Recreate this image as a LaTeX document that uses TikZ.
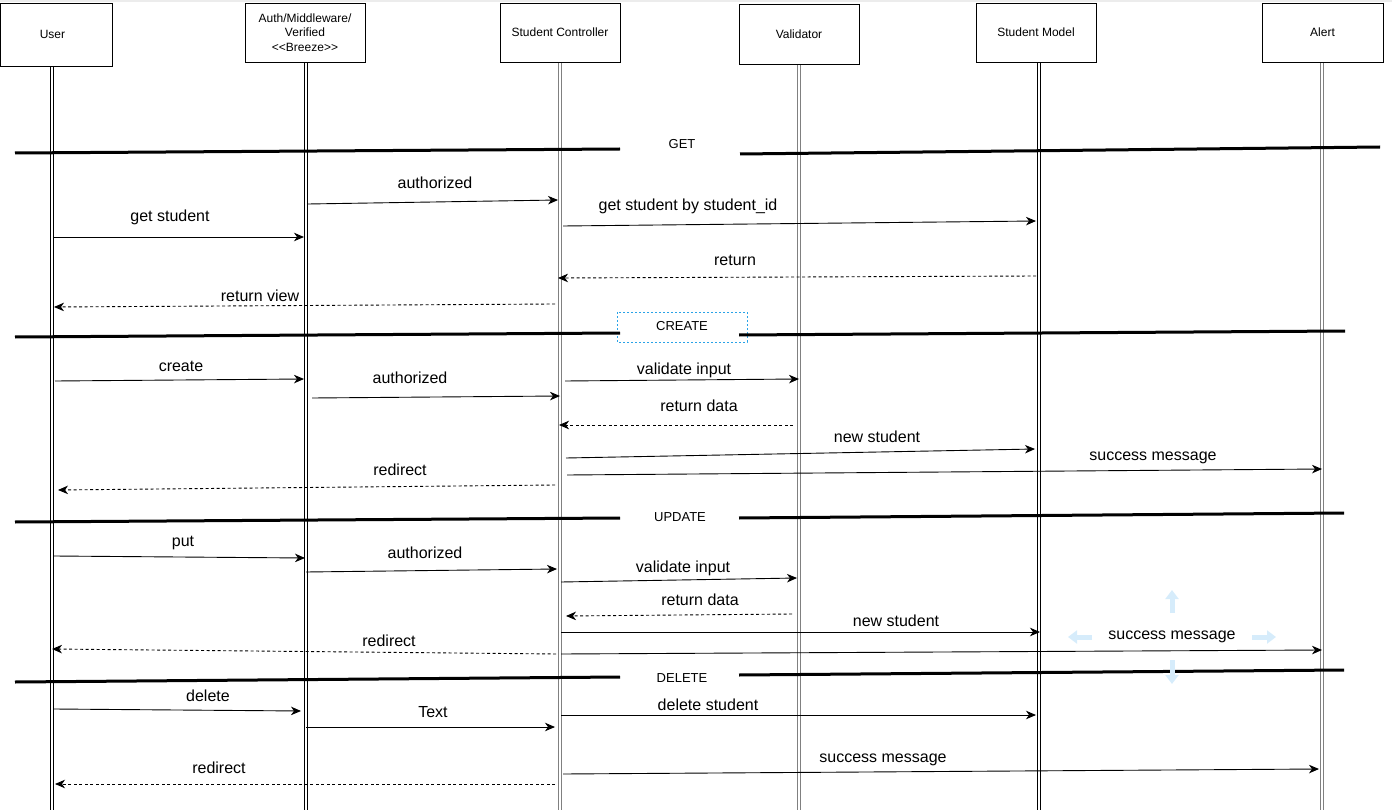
\documentclass[tikz,border=0pt]{standalone}
\usepackage{tikz}
\usepackage{xcolor}
\usepackage{fontspec}
\setmainfont{Liberation Sans}
\usetikzlibrary{arrows.meta,calc}

\definecolor{lifegray}{RGB}{128,128,128}
\definecolor{selblue}{RGB}{41,163,232}
\definecolor{hintblue}{RGB}{214,236,251}

\begin{document}
\begin{tikzpicture}[x=1pt,y=1pt,yscale=-1,xscale=1,
  box/.style={draw,fill=white,line width=0.9pt,minimum width=120pt,minimum height=59pt,inner sep=0pt,align=center,font=\fontsize{12}{14.5}\selectfont},
  life/.style={draw=#1,double=white,double distance=2.4pt,line width=0.9pt},
  life/.default=black,
  msg/.style={line width=0.9pt,-{Stealth[length=10pt,width=8.5pt,inset=3pt]}},
  ret/.style={msg,dash pattern=on 3pt off 2.5pt},
  sep/.style={line width=3pt},
  lbl/.style={inner sep=0pt,font=\fontsize{16}{18}\selectfont},
  seclbl/.style={inner sep=0pt,font=\fontsize{13}{15}\selectfont},
  hint/.style={draw=hintblue,line width=5pt,-{Triangle[length=9pt,width=13pt]}}]
\useasboundingbox (0,0) rectangle (1392,810);
\fill[gray!15] (0,0) rectangle (1392,2);

%Lifelines
\coordinate (userL) at (52,0);
\coordinate (authL) at (306,0);
\coordinate (ctrlL) at (560,0);
\coordinate (validL) at (799,0);
\coordinate (modelL) at (1039,0);
\coordinate (alertL) at (1322,0);
\draw[life] (userL |- 0,60) -- (userL |- 0,812);
\draw[life] (authL |- 0,60) -- (authL |- 0,812);
\draw[life=lifegray] (ctrlL |- 0,60) -- (ctrlL |- 0,812);
\draw[life=lifegray] (validL |- 0,60) -- (validL |- 0,812);
\draw[life] (modelL |- 0,60) -- (modelL |- 0,812);
\draw[life=lifegray] (alertL |- 0,60) -- (alertL |- 0,812);

%Shape: Participants
\node[box,minimum width=112pt,minimum height=63pt] (user) at (56,34.5) {User\kern7pt};
\node[box] (auth) at (305,32.5) {Auth/Middleware/\\Verified\\<\kern0pt<Breeze>\kern0pt>};
\node[box] (ctrl) at (560,32.5) {Student Controller};
\node[box,minimum height=60pt] (valid) at (799,34) {Validator};
\node[box] (model) at (1036,32.5) {Student Model};
\node[box,minimum width=121pt] (alert) at (1322.5,32.5) {Alert};

%Straight Lines: GET
\node[seclbl] (secGet) at (682,144) {GET};
\draw[sep] (15,153) -- (620,149);
\draw[sep] (740,154) -- (1380,147);
\draw[msg] ($(authL)+(2,204)$) -- ($(ctrlL)+(-2,200)$);
\draw[msg] ($(userL)+(2,237)$) -- ($(authL)+(-2,237)$);
\draw[msg] ($(ctrlL)+(3,226)$) -- ($(modelL)+(-3,221)$);
\draw[ret] ($(modelL)+(-3,276)$) -- ($(ctrlL)+(-2,278)$);
\draw[ret] ($(ctrlL)+(-5,304)$) -- ($(userL)+(2,307)$);

%Straight Lines: CREATE
\node[seclbl] (secCreate) at (682,326) {CREATE};
\draw[selblue,line width=0.6pt,dash pattern=on 2pt off 2pt] (617,312) rectangle (747,342);
\draw[sep] (15,337) -- (620,333);
\draw[sep] (739,335) -- (1345,331);
\draw[msg] ($(userL)+(3,381)$) -- ($(authL)+(-2,379)$);
\draw[msg] ($(authL)+(6,398)$) -- ($(ctrlL)+(0,396)$);
\draw[msg] ($(ctrlL)+(5,381)$) -- ($(validL)+(0,379)$);
\draw[ret] ($(validL)+(-6,425)$) -- ($(ctrlL)+(-1,425)$);
\draw[msg] ($(ctrlL)+(6,458)$) -- ($(modelL)+(-4,449)$);
\draw[msg] ($(ctrlL)+(7,475)$) -- ($(alertL)+(0,469)$);
\draw[ret] ($(ctrlL)+(-5,485)$) -- ($(userL)+(6,490)$);

%Straight Lines: UPDATE
\node[seclbl] (secUpdate) at (680,517) {UPDATE};
\draw[sep] (15,522) -- (620,518);
\draw[sep] (739,518) -- (1344,513);
\draw[msg] ($(userL)+(2,556)$) -- ($(authL)+(-1,558)$);
\draw[msg] ($(authL)+(0,572)$) -- ($(ctrlL)+(-3,569)$);
\draw[msg] ($(ctrlL)+(1,582)$) -- ($(validL)+(-2,578)$);
\draw[ret] ($(validL)+(-7,614)$) -- ($(ctrlL)+(6,616)$);
\draw[msg] ($(ctrlL)+(1,632)$) -- ($(modelL)+(1,632)$);
\draw[msg] ($(ctrlL)+(1,654)$) -- ($(alertL)+(0,650)$);
\draw[ret] ($(ctrlL)+(-4,654)$) -- ($(userL)+(0,649)$);

%Straight Lines: DELETE
\node[seclbl] (secDelete) at (682,678) {DELETE};
\draw[sep] (15,682) -- (620,677);
\draw[sep] (739,675) -- (1344,670);
\draw[msg] ($(userL)+(2,709)$) -- ($(authL)+(-5,711)$);
\draw[msg] ($(authL)+(0,727)$) -- ($(ctrlL)+(-5,727)$);
\draw[msg] ($(ctrlL)+(1,715)$) -- ($(modelL)+(-3,715)$);
\draw[ret] ($(ctrlL)+(-5,784)$) -- ($(userL)+(3,784)$);
\draw[msg] ($(ctrlL)+(3,774)$) -- ($(alertL)+(-3,769)$);

%Hover arrows
\draw[hint] (1172,613) -- (1172,590);
\draw[hint] (1092,637) -- (1068,637);
\draw[hint] (1252,637) -- (1276,637);
\draw[hint] (1172,660) -- (1172,684);

% Text Node
\node[lbl] (mAuth1) at (435,183) {authorized};
\node[lbl] (mGetSt) at (170,217) {get student};
\node[lbl] (mGetId) at (688,206) {get student by student\_id};
\node[lbl] (mRet) at (735,260) {return};
\node[lbl] (mRetView) at (260,296) {return view};
% Text Node
\node[lbl] (mCreate) at (181,366) {create};
\node[lbl] (mAuth2) at (410,378) {authorized};
\node[lbl] (mVal1) at (684,370) {validate input};
\node[lbl] (mData1) at (699,406) {return data};
\node[lbl] (mNew1) at (877,437) {new student};
\node[lbl] (mMsg1) at (1153,458) {success message};
\node[lbl] (mRed1) at (400,470) {redirect};
% Text Node
\node[lbl] (mPut) at (183,543) {put};
\node[lbl] (mAuth3) at (425,553) {authorized};
\node[lbl] (mVal2) at (683,568) {validate input};
\node[lbl] (mData2) at (700,600) {return data};
\node[lbl] (mNew2) at (896,621) {new student};
\node[lbl] (mMsg2) at (1172,637) {success message};
\node[lbl] (mRed2) at (389,641) {redirect};
% Text Node
\node[lbl] (mDel) at (208,696) {delete};
\node[lbl] (mText) at (433,712) {Text};
\node[lbl] (mDelSt) at (708,705) {delete student};
\node[lbl] (mRed3) at (219,768) {redirect};
\node[lbl] (mMsg3) at (883,760) {success message};

\end{tikzpicture}
\end{document}
